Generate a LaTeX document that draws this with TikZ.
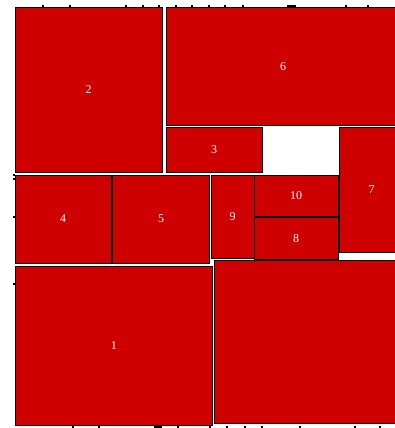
\documentclass[tikz,border=0pt]{standalone}
\usepackage{fontspec}
\setmainfont{Liberation Serif}
\usepackage{tikz}
\usepackage{xcolor}
\definecolor{tmRed}{HTML}{CE0000}

\begin{document}
\begin{tikzpicture}[x=1pt, y=-1pt,
    cell/.style={fill=tmRed, draw=black, line width=0.9pt},
    cellLabel/.style={text=white, font=\fontsize{12}{14}\selectfont}]
    \useasboundingbox (0,0) rectangle (395,428);
    \clip (0,0) rectangle (395,428);

    % Tick marks
    \foreach \x in {43,70,126,143,159,176,192,209,225,243,346,368} {
        \fill[black] (\x-1,5.5) rectangle (\x+1,7);
    }
    \fill[black] (287,5.5) rectangle (296,7);
    \foreach \x in {73,99,178,210,227,245,262,300,355,380} {
        \fill[black] (\x-1,425.5) rectangle (\x+1,427.5);
    }
    \fill[black] (154,425.5) rectangle (162,427.5);
    \foreach \y in {175,179,217,284} {
        \fill[black] (13,\y-1) rectangle (15,\y+1);
    }

    % Cells
    \draw[cell] (15,7.5) rectangle (162,172) node[midway, cellLabel] (c2) {2};
    \draw[cell] (166,7.5) rectangle (400,125.5) node[midway, cellLabel] (c6) {6};
    \draw[cell] (166,127) rectangle (262,172.5) node[midway, cellLabel] (c3) {3};
    \draw[cell] (339,127) rectangle (400,252) node[midway, cellLabel, xshift=2] (c7) {7};
    \draw[cell] (15,175) rectangle (111,263) node[midway, cellLabel] (c4) {4};
    \draw[cell] (112.5,175) rectangle (209.5,263) node[midway, cellLabel] (c5) {5};
    \draw[cell] (211,175) rectangle (254,258) node[midway, cellLabel] (c9) {9};
    \draw[cell] (254,175) rectangle (338,216.5) node[midway, cellLabel] (c10) {10};
    \draw[cell] (254,217) rectangle (338,259.5) node[midway, cellLabel] (c8) {8};
    \draw[cell] (15,266) rectangle (212.5,425) node[midway, cellLabel] (c1) {1};
    \draw[cell] (214,260.5) rectangle (400,423.5);
\end{tikzpicture}
\end{document}
